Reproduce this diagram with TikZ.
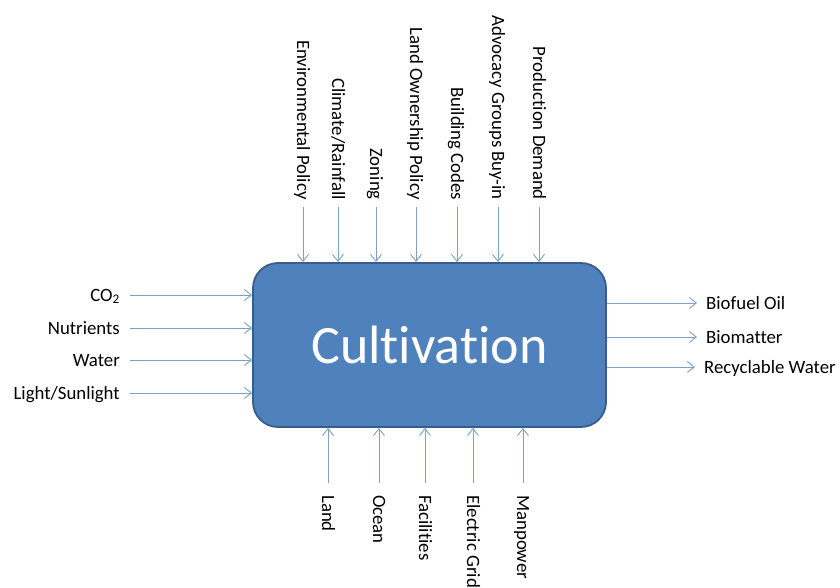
\documentclass[tikz,border=0pt]{standalone}
\usepackage{fontspec}
\setmainfont[Ligatures=NoCommon]{Carlito}
\usepackage{xcolor}
\usetikzlibrary{arrows.meta,positioning,calc}
\definecolor{procfill}{HTML}{4F81BD}
\definecolor{procline}{HTML}{385D8A}
\definecolor{arrowline}{HTML}{7F9FC8}

\begin{document}
\begin{tikzpicture}[
    x=1pt,y=-1pt,
    >={Straight Barb[length=7pt,width=11pt,line width=0.9pt]},
    flow/.style={->,line width=1pt,draw=arrowline},
    process/.style={draw=procline,fill=procfill,line width=1.8pt,
      rounded corners=25pt,minimum width=353pt,minimum height=164pt,
      inner sep=0pt,text=white,font=\fontsize{54}{60}\selectfont},
    label/.style={font=\fontsize{18.8}{22}\selectfont,text height=12pt,
      text depth=0pt,inner sep=2pt},
    toplabel/.style={label,rotate=-90,anchor=east},
    botlabel/.style={label,rotate=-90,anchor=west}
  ]
    \useasboundingbox (0,0) rectangle (840,588);

    % Central process block.
    \node[process] (cult) at (429.5,345) {Cultivation};

    % Inputs from the left.
    \node[label,anchor=east] (co2) at (122,295) {CO\textsubscript{2}};
    \node[label,anchor=east] (nutr) at (122,328) {Nutrients};
    \node[label,anchor=east] (water) at (122,360) {Water};
    \node[label,anchor=east] (light) at (122,393) {Light/Sunlight};
    \foreach \n in {co2,nutr,water,light}
      \draw[flow,shorten <=8pt] (\n.east) -- (\n.east -| cult.west);

    % Controls from the top.
    \node[toplabel] (envpol) at (303,202) {Environmental Policy};
    \node[toplabel] (climate) at (338,202) {Climate/Rainfall};
    \node[toplabel] (zoning) at (376,202) {Zoning};
    \node[toplabel] (landpol) at (416,202) {Land Ownership Policy};
    \node[toplabel] (codes) at (457,202) {Building Codes};
    \node[toplabel] (advocacy) at (498,202) {Advocacy Groups Buy-in};
    \node[toplabel] (demand) at (539,202) {Production Demand};
    \foreach \n in {envpol,climate,zoning,landpol,codes,advocacy,demand}
      \draw[flow,shorten <=5pt] (\n.east) -- (\n.east |- cult.north);

    % Resources from the bottom.
    \node[botlabel] (land) at (328,493) {Land};
    \node[botlabel] (ocean) at (379,493) {Ocean};
    \node[botlabel] (facil) at (425,493) {Facilities};
    \node[botlabel] (grid) at (473,493) {Electric Grid};
    \node[botlabel] (manpower) at (523,493) {Manpower};
    \foreach \n in {land,ocean,facil,grid,manpower}
      \draw[flow,shorten <=10pt] (\n.west) -- (\n.west |- cult.south);

    % Outputs to the right.
    \node[label,anchor=west] (oil) at (704,303) {Biofuel Oil};
    \node[label,anchor=west] (biomat) at (704,337) {Biomatter};
    \node[label,anchor=west] (recyc) at (702,367) {Recyclable Water};
    \foreach \n in {oil,biomat,recyc}
      \draw[flow,shorten >=7pt] (\n.west -| cult.east) -- (\n.west);
  \end{tikzpicture}
\end{document}
